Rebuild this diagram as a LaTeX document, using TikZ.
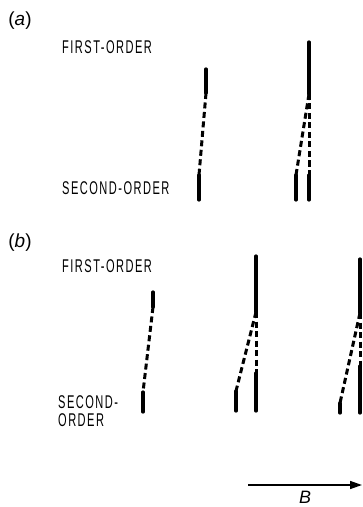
\documentclass[tikz,border=0pt]{standalone}
\usepackage{fontspec}
\setmainfont{Liberation Sans}
\newfontfamily\orderfont[FakeStretch=0.6, LetterSpace=8]{Liberation Sans}
\usepackage{tikz}
\usetikzlibrary{positioning, arrows.meta}

\begin{document}
\begin{tikzpicture}[
    x=1bp, y=-1bp,
    label/.style={inner sep=0pt, anchor=west, align=left,
    font=\orderfont\fontsize{18.5}{17.5}\selectfont},
    panel/.style={inner sep=0pt, font=\fontsize{19}{20}\selectfont},
    solid line/.style={line width=3.2bp, line cap=round},
    dashed line/.style={line width=3bp, dash pattern=on 6bp off 3.5bp},
    arrow/.style={-{Triangle[length=12bp, width=8bp]}, line width=1.5bp},
]
\useasboundingbox (0,0) rectangle (362,507);

\node[panel] (pa) at (20,21) {(\textit{a})};
\node[label] (firsta) at (62,47.5) {FIRST-ORDER};
\node[label] (seconda) at (62,188) {SECOND-ORDER};

\node[panel] (pb) at (20,243) {(\textit{b})};
\node[label] (firstb) at (62,266) {FIRST-ORDER};
\node[label] (secondb) at (58,411) {SECOND-\\ORDER};

\coordinate (a1t) at (206,69);
\coordinate (a1m) at (206,93);
\coordinate (a1b) at (199,175);
\coordinate (a1e) at (199,200);
\coordinate (a2t) at (309,42);
\coordinate (a2m) at (309,94);
\coordinate (a2l) at (296,175);
\coordinate (a2le) at (296,200);
\coordinate (a2r) at (309,175);
\coordinate (a2re) at (309,200);

\coordinate (b1t) at (153,292);
\coordinate (b1m) at (153,307);
\coordinate (b1b) at (143,392);
\coordinate (b1e) at (143,412);
\coordinate (b2t) at (256,256);
\coordinate (b2m) at (256,312);
\coordinate (b2l) at (236,391);
\coordinate (b2le) at (236,411);
\coordinate (b2r) at (256,373);
\coordinate (b2re) at (256,411);
\coordinate (b3t) at (360,259);
\coordinate (b3m) at (360,313);
\coordinate (b3l) at (340,403);
\coordinate (b3le) at (340,413);
\coordinate (b3r) at (360,366);
\coordinate (b3re) at (360,413);

\draw[solid line] (a1t) -- (a1m);
\draw[dashed line] (a1m) -- (a1b);
\draw[solid line] (a1b) -- (a1e);
\draw[solid line] (a2t) -- (a2m);
\draw[dashed line] (a2m) -- (a2l);
\draw[dashed line] (a2m) -- (a2r);
\draw[solid line] (a2l) -- (a2le);
\draw[solid line] (a2r) -- (a2re);

\draw[solid line] (b1t) -- (b1m);
\draw[dashed line] (b1m) -- (b1b);
\draw[solid line] (b1b) -- (b1e);
\draw[solid line] (b2t) -- (b2m);
\draw[dashed line] (b2m) -- (b2l);
\draw[dashed line] (b2m) -- (b2r);
\draw[solid line] (b2l) -- (b2le);
\draw[solid line] (b2r) -- (b2re);
\draw[solid line] (b3t) -- (b3m);
\draw[dashed line] (b3m) -- (b3l);
\draw[dashed line] (b3m) -- (b3r);
\draw[solid line] (b3l) -- (b3le);
\draw[solid line] (b3r) -- (b3re);

\coordinate (bstart) at (248,485);
\coordinate (bend) at (362,485);
\draw[arrow] (bstart) -- (bend);
\node[panel, font=\itshape\fontsize{18}{20}\selectfont] (field) at (305,497) {B};

\end{tikzpicture}
\end{document}
